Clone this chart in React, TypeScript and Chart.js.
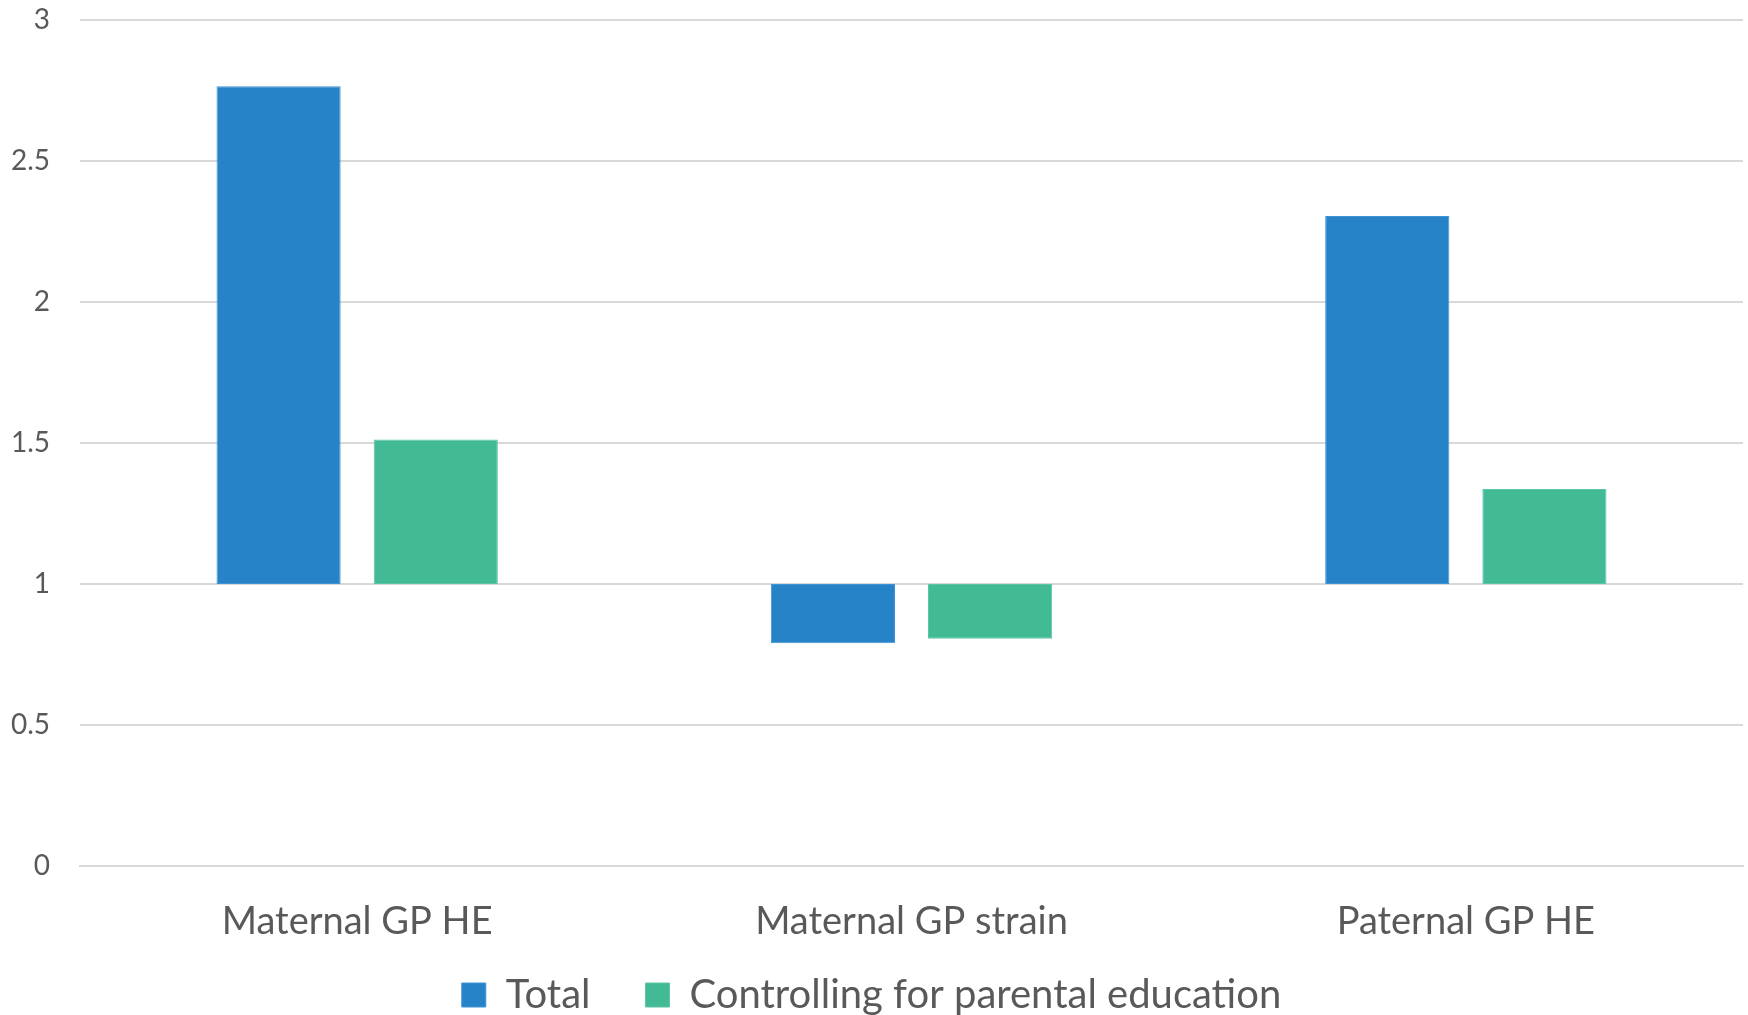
import React, { useEffect, useRef } from "react";
import { Chart, registerables } from "chart.js";

Chart.register(...registerables);

const categories = ["Maternal GP HE", "Maternal GP strain", "Paternal GP HE"];
const seriesNames = ["Total", "Controlling for parental education"];
const baseline = 1;
const totalValues = [2.765, 0.79, 2.305];
const controllingValues = [1.512, 0.806, 1.337];
const yTicks = [0, 0.5, 1, 1.5, 2, 2.5, 3];

const FONT = "Lato";
const TEXT = "#595959";
const GRID = "#d9d9d9";

export default function App() {
  const ref = useRef<HTMLCanvasElement>(null);
  useEffect(() => {
    document.body.style.margin = "0";
    const ctx = ref.current!;
    const chart = new Chart(ctx, {
      type: "bar",
      data: {
        labels: categories,
        datasets: [
          {
            label: seriesNames[0],
            data: totalValues.map((v) => [baseline, v]) as any,
            backgroundColor: "#2783C8",
            borderColor: "#3f93d2",
            borderWidth: 1,
            borderSkipped: false,
          },
          {
            label: seriesNames[1],
            data: controllingValues.map((v) => [baseline, v]) as any,
            backgroundColor: "#43BA96",
            borderColor: "#5cc6a6",
            borderWidth: 1,
            borderSkipped: false,
          },
        ],
      },
      options: {
        animation: false,
        responsive: false,
        maintainAspectRatio: false,
        layout: { padding: { top: 0, right: 5, left: 0, bottom: -10 } },
        datasets: {
          bar: { categoryPercentage: 0.567, barPercentage: 0.79 },
        } as any,
        plugins: {
          legend: {
            position: "bottom",
            labels: {
              boxWidth: 24,
              boxHeight: 24,
              padding: 55,
              color: TEXT,
              font: { family: FONT, size: 40 },
            },
          },
          tooltip: { enabled: false },
        },
        scales: {
          x: {
            grid: { display: false, drawTicks: false },
            border: { display: true, color: GRID, width: 2 },
            ticks: { color: TEXT, font: { family: FONT, size: 38 }, padding: 33 },
            afterFit: (s: any) => {
              s.height = 54;
              s._computeLabelArea = () => undefined;
            },
          },
          y: {
            min: 0,
            max: 3,
            afterBuildTicks: (s: any) => {
              s.ticks = yTicks.map((v) => ({ value: v }));
            },
            grid: { color: GRID, lineWidth: 2, drawTicks: false },
            border: { display: false },
            ticks: {
              color: TEXT,
              font: { family: FONT, size: 28 },
              padding: 30,
              callback: (v: any) => String(v),
            },
            afterFit: (s: any) => {
              s.width = 80;
              s.paddingTop = 20;
              s.paddingBottom = 0;
            },
          },
        },
      },
    });
    return () => chart.destroy();
  }, []);
  return (
    <div style={{ position: "fixed", left: 0, top: 0, width: 1748, height: 1015 }}>
      <canvas ref={ref} width={1748} height={1015} />
    </div>
  );
}
